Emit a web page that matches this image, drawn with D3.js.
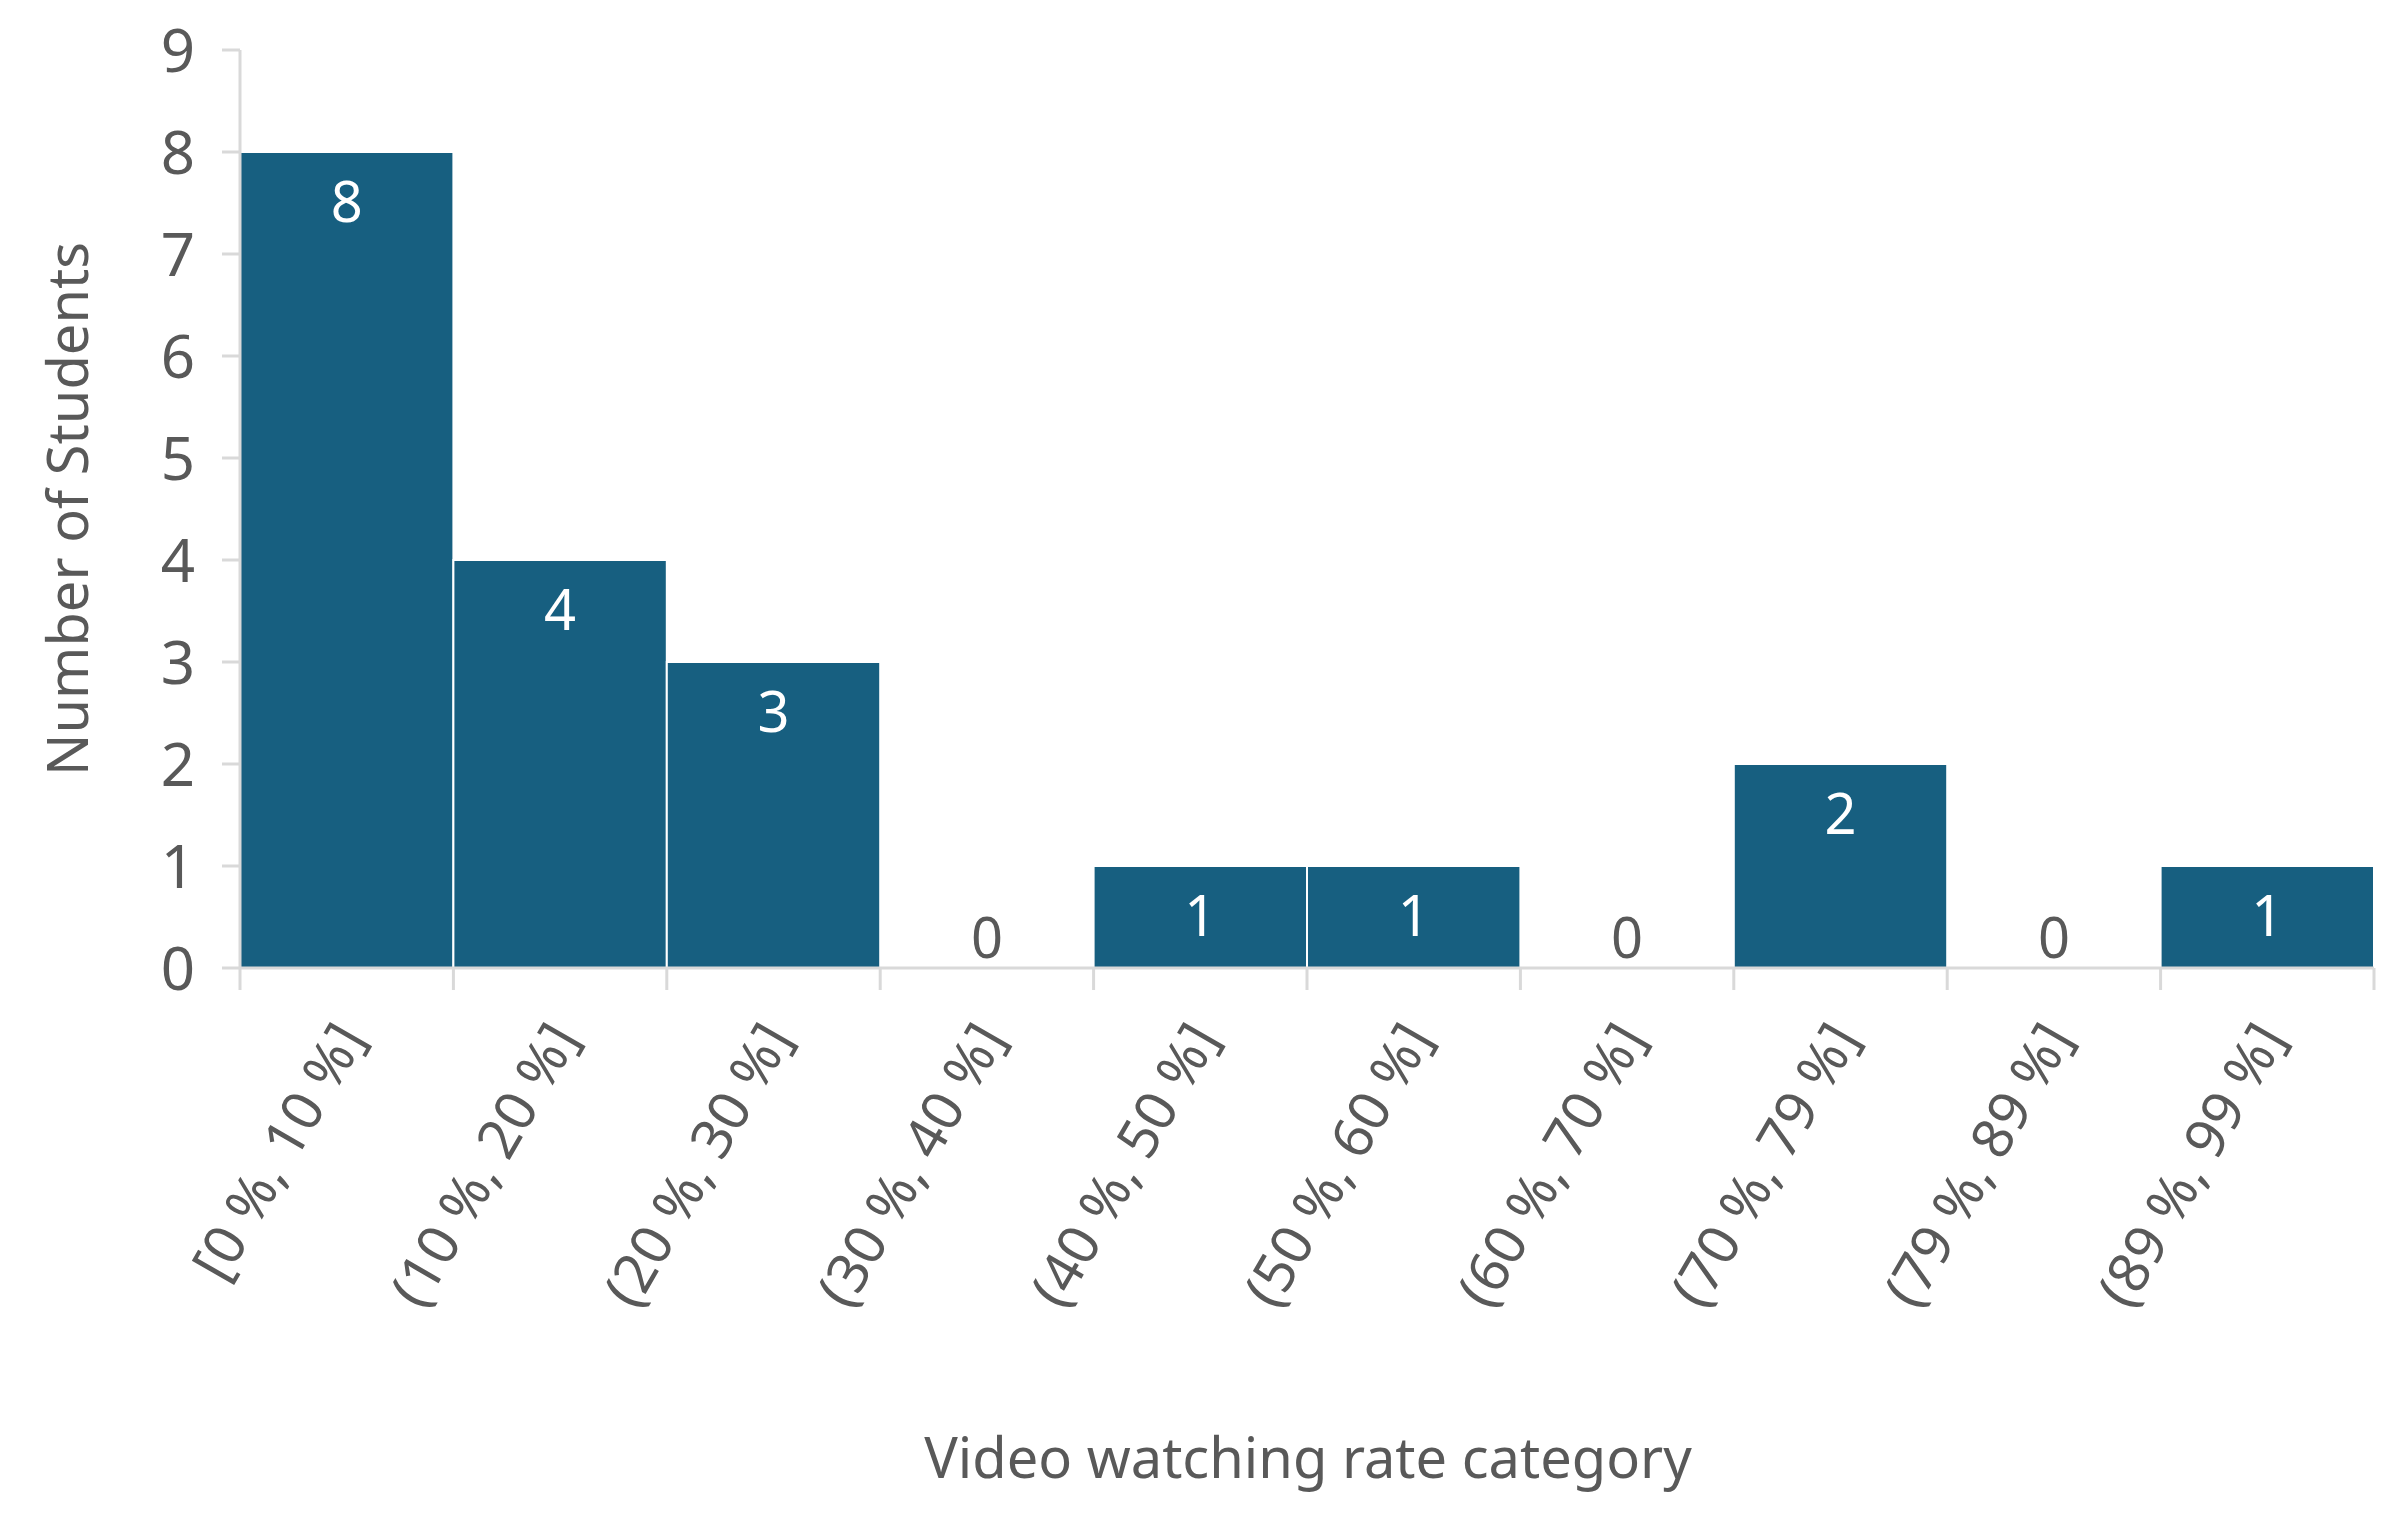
<!DOCTYPE html>
<html><head><meta charset="utf-8">
<script src="https://cdn.jsdelivr.net/npm/d3@7"></script>
<style>body{margin:0;background:#fff}</style>
</head><body>
<svg width="2397" height="1528"></svg>
<script>
var categories = ["[0 %, 10 %]","(10 %, 20 %]","(20 %, 30 %]","(30 %, 40 %]","(40 %, 50 %]","(50 %, 60 %]","(60 %, 70 %]","(70 %, 79 %]","(79 %, 89 %]","(89 %, 99 %]"],
    counts = [8, 4, 3, 0, 1, 1, 0, 2, 0, 1],
    yTicks = [0,1,2,3,4,5,6,7,8,9];

var svg = d3.select("svg"),
    mLeft = 240, mRight = 2374, mTop = 50, mBottom = 968,
    font = "Noto Sans, sans-serif", grey = "#595959";

var x = d3.scaleBand().domain(categories).range([mLeft, mRight]).padding(0);
var y = d3.scaleLinear().domain([0, 9]).range([mBottom, mTop]);

// bars
svg.selectAll("rect").data(counts).enter().append("rect")
    .attr("x", function(d, i) { return x(categories[i]); })
    .attr("y", function(d) { return y(d); })
    .attr("width", x.bandwidth())
    .attr("height", function(d) { return mBottom - y(d); })
    .attr("fill", "#175f80")
    .attr("stroke", "#fff").attr("stroke-width", 2);

// value labels
svg.selectAll(".val").data(counts).enter().append("text")
    .attr("x", function(d, i) { return x(categories[i]) + x.bandwidth() / 2; })
    .attr("y", function(d) { return d > 0 ? y(d) + 70 : mBottom - 10; })
    .attr("text-anchor", "middle")
    .attr("font-family", font).attr("font-size", 56)
    .attr("fill", function(d) { return d > 0 ? "#fff" : grey; })
    .text(function(d) { return d; });

// y axis
svg.append("line").attr("x1", mLeft).attr("x2", mLeft).attr("y1", mTop).attr("y2", mBottom)
    .attr("stroke", "#d9d9d9").attr("stroke-width", 3);
svg.selectAll(".yt").data(yTicks).enter().append("line")
    .attr("x1", mLeft - 18).attr("x2", mLeft)
    .attr("y1", function(d) { return y(d); }).attr("y2", function(d) { return y(d); })
    .attr("stroke", "#d9d9d9").attr("stroke-width", 3);
svg.selectAll(".yl").data(yTicks).enter().append("text")
    .attr("x", mLeft - 45).attr("y", function(d) { return y(d) + 22; })
    .attr("text-anchor", "end").attr("font-family", font).attr("font-size", 60)
    .attr("fill", grey).text(function(d) { return d; });

// x axis
svg.append("line").attr("x1", mLeft).attr("x2", mRight).attr("y1", mBottom).attr("y2", mBottom)
    .attr("stroke", "#d9d9d9").attr("stroke-width", 3);
svg.selectAll(".xt").data(d3.range(categories.length + 1)).enter().append("line")
    .attr("x1", function(i) { return mLeft + i * x.bandwidth(); })
    .attr("x2", function(i) { return mLeft + i * x.bandwidth(); })
    .attr("y1", mBottom).attr("y2", mBottom + 22)
    .attr("stroke", "#d9d9d9").attr("stroke-width", 3);
svg.selectAll(".xl").data(categories).enter().append("text")
    .attr("transform", function(d) { return "translate(" + (x(d) + x.bandwidth() / 2 + 20) + "," + (mBottom + 70) + ") rotate(-60)"; })
    .attr("text-anchor", "end").attr("font-family", font).attr("font-size", 56)
    .attr("fill", grey).text(function(d) { return d; });

// titles
svg.append("text").attr("x", 1308).attr("y", 1478)
    .attr("text-anchor", "middle").attr("font-family", font).attr("font-size", 56)
    .attr("fill", grey).text("Video watching rate category");
svg.append("text").attr("transform", "translate(88," + (mTop + mBottom) / 2 + ") rotate(-90)")
    .attr("text-anchor", "middle").attr("font-family", font).attr("font-size", 56)
    .attr("fill", grey).text("Number of Students");
</script>
</body></html>
